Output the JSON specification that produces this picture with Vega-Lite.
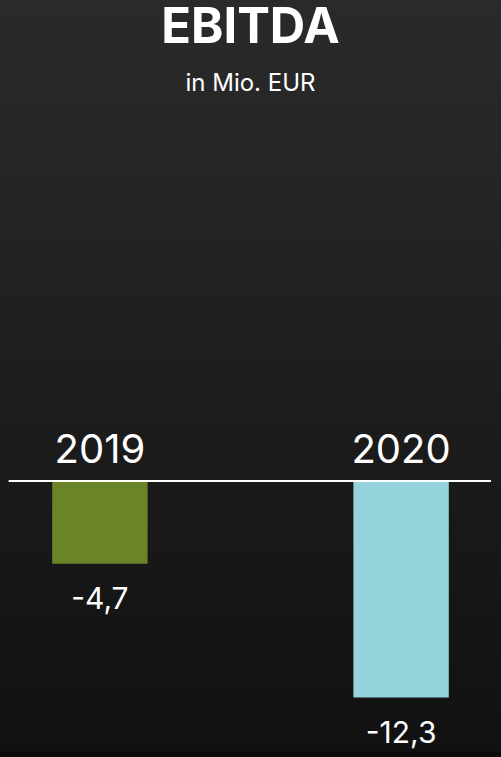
{
  "$schema": "https://vega.github.io/schema/vega-lite/v6.json",
  "width": 501,
  "height": 757,
  "autosize": {"type": "fit", "contains": "padding"},
  "padding": 0,
  "background": "#2a2a2a",
  "title": {
    "text": "EBITDA",
    "subtitle": "in Mio. EUR",
    "anchor": "middle",
    "frame": "group",
    "orient": "top",
    "offset": -96,
    "font": "Inter",
    "fontSize": 49,
    "fontWeight": "bold",
    "color": "#ffffff",
    "subtitleFont": "Inter",
    "subtitleFontSize": 24,
    "subtitleColor": "#ffffff",
    "subtitlePadding": 19
  },
  "data": {
    "values": [
      {"year": "2019", "value": -4.7, "label": "-4,7"},
      {"year": "2020", "value": -12.3, "label": "-12,3"}
    ]
  },
  "encoding": {
    "x": {
      "field": "year",
      "type": "nominal",
      "scale": {"paddingInner": 0.6833, "paddingOuter": 0.1733},
      "axis": null
    }
  },
  "layer": [
    {
      "mark": {"type": "bar", "cornerRadius": 0},
      "encoding": {
        "y": {
          "field": "value",
          "type": "quantitative",
          "scale": {"domain": [-15.68, 27.33], "nice": false, "zero": false},
          "axis": null
        },
        "color": {
          "field": "year",
          "type": "nominal",
          "scale": {"domain": ["2019", "2020"], "range": ["#6b8428", "#95d3dd"]},
          "legend": null
        }
      }
    },
    {
      "mark": {"type": "rule", "color": "#ffffff", "strokeWidth": 2},
      "encoding": {
        "x": {"datum": "2019", "type": "nominal", "bandPosition": -0.455},
        "x2": {"datum": "2020", "bandPosition": 1.44},
        "y": {"datum": 0, "type": "quantitative"}
      }
    },
    {
      "mark": {"type": "text", "font": "Inter", "fontSize": 40, "color": "#ffffff", "baseline": "alphabetic", "dy": -18},
      "encoding": {
        "y": {"datum": 0, "type": "quantitative"},
        "text": {"field": "year", "type": "nominal"}
      }
    },
    {
      "mark": {"type": "text", "font": "Inter", "fontSize": 30, "color": "#ffffff", "baseline": "top", "dy": 21},
      "encoding": {
        "y": {"field": "value", "type": "quantitative"},
        "text": {"field": "label", "type": "nominal"}
      }
    }
  ],
  "config": {
    "view": {
      "stroke": null,
      "fill": {
        "gradient": "linear",
        "x1": 0, "y1": 0, "x2": 0, "y2": 1,
        "stops": [
          {"offset": 0, "color": "#2a2a2a"},
          {"offset": 0.2, "color": "#262626"},
          {"offset": 0.63, "color": "#1a1a1a"},
          {"offset": 0.992, "color": "#111111"},
          {"offset": 0.993, "color": "#0b0b0d"},
          {"offset": 1, "color": "#0b0b0d"}
        ]
      }
    }
  }
}
